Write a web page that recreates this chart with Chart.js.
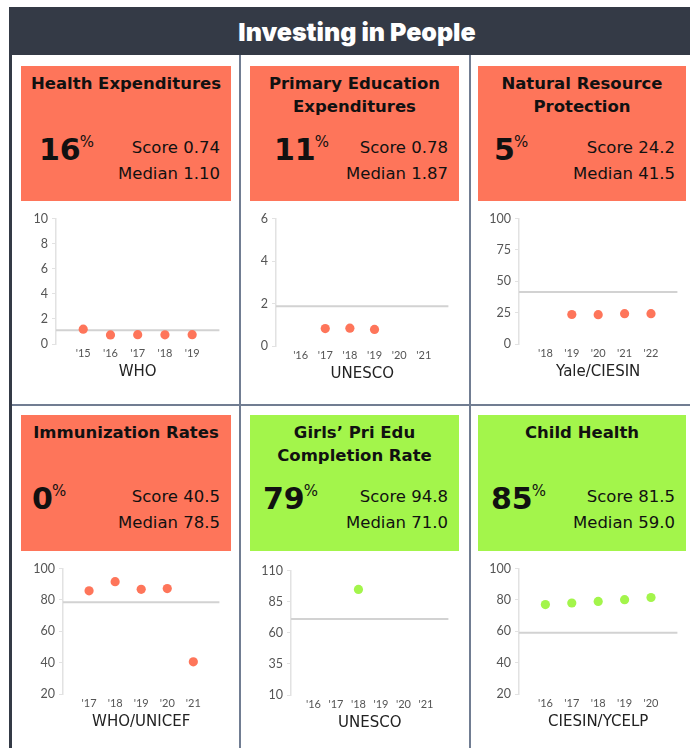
<!DOCTYPE html>
<html>
<head>
<meta charset="utf-8">
<script src="https://cdn.jsdelivr.net/npm/chart.js@4.4.1/dist/chart.umd.min.js"></script>
<style>
  body { margin: 0; background: #fff; width: 690px; height: 748px; overflow: hidden; position: relative; font-family: 'DejaVu Sans', sans-serif; }
  .abs { position: absolute; }
  .header { left: 9px; top: 7px; width: 690px; height: 48px; background: #343a46; }
  .header h1 { margin: 0; font: 900 25px Inter, sans-serif; color: #fff; text-align: center; line-height: 50px; padding-left: 6px; }
  .rule { background: #717d92; z-index: 5; }
  .leftbar { left: 9px; top: 7px; width: 3px; height: 748px; background: #343a46; z-index: 5; }
  .box { position: absolute; color: #111; }
  .coral { background: #fe755a; }
  .green { background: #a3f54b; }
  .ttl { position: absolute; left: 0; right: 0; top: 6px; text-align: center; font-weight: bold; font-size: 16.5px; line-height: 23px; }
  .big { position: absolute; left: 13px; top: 69px; font-weight: bold; font-size: 30px; line-height: 30px; }
  .big span { font-weight: normal; font-size: 15px; line-height: 15px; vertical-align: top; margin-left: -1px; }
  .score, .med { position: absolute; right: 11px; font-size: 16.5px; line-height: 20px; white-space: nowrap; }
  .score { top: 72px; }
  .med { top: 98px; }
  canvas { position: absolute; }
</style>
</head>
<body>
<div class="abs header"><h1>Investing in People</h1></div>
<div class="abs leftbar"></div>
<div class="abs rule" style="left:239px;top:55px;width:2px;height:700px"></div>
<div class="abs rule" style="left:469px;top:55px;width:2px;height:700px"></div>
<div class="abs rule" style="left:12px;top:404px;width:690px;height:2px"></div>

<!-- row 1 -->
<div class="box coral" style="left:21px;top:66px;width:210px;height:135px">
  <div class="ttl">Health Expenditures</div>
  <div class="big" style="left:18px">16<span>%</span></div>
  <div class="score">Score 0.74</div>
  <div class="med">Median 1.10</div>
</div>
<div class="box coral" style="left:250px;top:66px;width:209px;height:135px">
  <div class="ttl">Primary Education<br>Expenditures</div>
  <div class="big" style="left:24px">11<span>%</span></div>
  <div class="score">Score 0.78</div>
  <div class="med">Median 1.87</div>
</div>
<div class="box coral" style="left:478px;top:66px;width:208px;height:135px">
  <div class="ttl">Natural Resource<br>Protection</div>
  <div class="big" style="left:16px">5<span>%</span></div>
  <div class="score">Score 24.2</div>
  <div class="med">Median 41.5</div>
</div>

<!-- row 2 -->
<div class="box coral" style="left:21px;top:415px;width:210px;height:136px">
  <div class="ttl">Immunization Rates</div>
  <div class="big" style="left:11px">0<span>%</span></div>
  <div class="score">Score 40.5</div>
  <div class="med">Median 78.5</div>
</div>
<div class="box green" style="left:250px;top:415px;width:209px;height:136px">
  <div class="ttl">Girls’ Pri Edu<br>Completion Rate</div>
  <div class="big">79<span>%</span></div>
  <div class="score">Score 94.8</div>
  <div class="med">Median 71.0</div>
</div>
<div class="box green" style="left:478px;top:415px;width:208px;height:136px">
  <div class="ttl">Child Health</div>
  <div class="big">85<span>%</span></div>
  <div class="score">Score 81.5</div>
  <div class="med">Median 59.0</div>
</div>

<canvas id="c-health" width="208" height="177" style="left:16px;top:207px"></canvas>
<canvas id="c-edu" width="217" height="179" style="left:236px;top:207px"></canvas>
<canvas id="c-nature" width="203" height="177" style="left:479px;top:207px"></canvas>
<canvas id="c-immun" width="201" height="177" style="left:23px;top:557px"></canvas>
<canvas id="c-girls" width="202" height="176" style="left:251px;top:559px"></canvas>
<canvas id="c-child" width="203" height="177" style="left:479px;top:557px"></canvas>

<script>
//-- Data//
const coral = '#fe755a';
const green = '#a3f54b';

const healthYears = ["'15", "'16", "'17", "'18", "'19"];
const healthValues = [1.18, 0.72, 0.74, 0.73, 0.74];
const healthMedian = 1.10;

const eduYears = ["'16", "'17", "'18", "'19", "'20", "'21"];
const eduValues = [null, 0.82, 0.84, 0.78, null, null];
const eduMedian = 1.87;

const natureYears = ["'18", "'19", "'20", "'21", "'22"];
const natureValues = [null, 23.5, 23.4, 24.2, 24.2];
const natureMedian = 41.5;

const immunYears = ["'17", "'18", "'19", "'20", "'21"];
const immunValues = [85.8, 91.6, 86.7, 87.2, 40.5];
const immunMedian = 78.5;

const girlsYears = ["'16", "'17", "'18", "'19", "'20", "'21"];
const girlsValues = [null, null, 94.8, null, null, null];
const girlsMedian = 71.0;

const childYears = ["'16", "'17", "'18", "'19", "'20"];
const childValues = [77.0, 78.0, 79.0, 80.1, 81.5];
const childMedian = 59.0;

//-- Chart builder//
function makePanel(id, years, values, median, yMin, yMax, step, source, color) {
    // blank slot on each side so points sit one step in from the edges
    const labels = ['', ...years, ''];
    new Chart(document.getElementById(id), {
        type: 'line',
        data: {
            labels,
            datasets: [
                {
                    data: [null, ...values, null],
                    showLine: false,
                    pointRadius: 4.6,
                    pointHoverRadius: 4.6,
                    pointBorderWidth: 0,
                    pointBackgroundColor: color,
                    borderColor: color
                },
                {
                    data: labels.map(() => median),
                    borderColor: '#d2d2d2',
                    borderWidth: 2,
                    pointRadius: 0
                }
            ]
        },
        options: {
            responsive: false,
            animation: false,
            devicePixelRatio: 1,
            layout: { padding: { top: 10, left: 0, right: 0, bottom: 0 } },
            plugins: { legend: { display: false }, tooltip: { enabled: false } },
            scales: {
                x: {
                    offset: false,
                    grid: { display: false, drawTicks: false },
                    border: { display: false },
                    ticks: {
                        autoSkip: false,
                        maxRotation: 0,
                        padding: 3,
                        color: '#555',
                        font: { family: 'Lato', size: 11 }
                    },
                    title: {
                        display: true,
                        text: source,
                        color: '#222',
                        padding: { top: 0, bottom: 3 },
                        font: { family: 'DejaVu Sans', size: 15 }
                    },
                    afterFit: scale => { scale.height = 40; }
                },
                y: {
                    min: yMin,
                    max: yMax,
                    grid: { drawOnChartArea: false, drawTicks: true, tickLength: 4, color: '#e2e2e2' },
                    border: { display: true, color: '#e2e2e2', width: 1.5 },
                    ticks: {
                        stepSize: step,
                        padding: 4,
                        color: '#555',
                        font: { family: 'Lato', size: 12.5 }
                    },
                    afterFit: scale => { scale.width = 40; }
                }
            }
        }
    });
}

makePanel('c-health', healthYears, healthValues, healthMedian, 0, 10, 2, 'WHO', coral);
makePanel('c-edu', eduYears, eduValues, eduMedian, 0, 6, 2, 'UNESCO', coral);
makePanel('c-nature', natureYears, natureValues, natureMedian, 0, 100, 25, 'Yale/CIESIN', coral);
makePanel('c-immun', immunYears, immunValues, immunMedian, 20, 100, 20, 'WHO/UNICEF', coral);
makePanel('c-girls', girlsYears, girlsValues, girlsMedian, 10, 110, 25, 'UNESCO', green);
makePanel('c-child', childYears, childValues, childMedian, 20, 100, 20, 'CIESIN/YCELP', green);
</script>
</body>
</html>
